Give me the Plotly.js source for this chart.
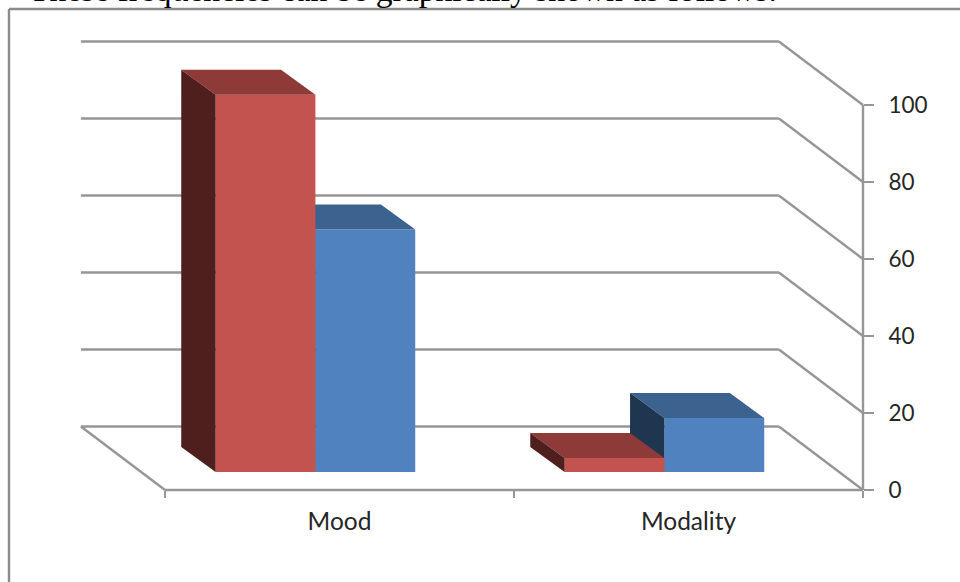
<!DOCTYPE html>
<html>
<head>
<meta charset="utf-8">
<script src="https://cdn.plot.ly/plotly-3.0.1.min.js"></script>
<style>html,body{margin:0;padding:0;background:#fff;overflow:hidden}#chart{width:960px;height:582px}</style>
</head>
<body>
<div id="chart"></div>
<script>
// Data
var categories = ['Mood', 'Modality'];
var redValues = [98, 3.6];
var blueValues = [63, 14];
var yTicks = [0, 20, 40, 60, 80, 100];
var captionText = 'These frequencies can be graphically shown as follows.';

// Styling and oblique-projection constants (axis units)
var BAR_W = 0.286, RED_OFF = -0.355, BLUE_OFF = -0.069;
var BASE = 4.68;          // front of the bars above the front floor edge
var DX = 0.0985, DY = 6.5;   // bar depth
var WALL_DX = 0.241, WALL_DY = 16.5; // floor depth
var X0 = -0.5, X1 = 1.5, Y_MAX = 100;
var GRID = '#969696';
var RIGHT = 863, BOTTOM = 490, PX_PER_X = 349, PX_PER_Y = 3.85;
var L = 60, T = 25, W = RIGHT - L, H = BOTTOM - T;
var XLO = X1 - W / PX_PER_X, YHI = H / PX_PER_Y;

function px(v) { return (v - L) / W; }
function py(v) { return (T + H - v) / H; }

function poly(xs, ys, color, xa, ya) {
  return { type: 'scatter', mode: 'lines', x: xs, y: ys, fill: 'toself', fillcolor: color,
    line: { width: 0, color: color }, hoverinfo: 'skip', showlegend: false, xaxis: xa, yaxis: ya };
}
function series(values, off, front, top, side, xa, ya) {
  var tr = [];
  var xs = categories.map(function (c, i) { return i; });
  tr.push({ type: 'bar', x: xs, y: values, base: values.map(function () { return BASE; }),
    width: values.map(function () { return BAR_W; }), offset: values.map(function () { return off; }),
    marker: { color: front, line: { width: 0 } }, hoverinfo: 'skip', showlegend: false, xaxis: xa, yaxis: ya });
  values.forEach(function (v, i) {
    var l = i + off, r = l + BAR_W, b = BASE, t = BASE + v;
    tr.push(poly([l, r, r - DX, l - DX, l], [t, t, t + DY, t + DY, t], top, xa, ya));
    tr.push(poly([l, l - DX, l - DX, l, l], [b, b + DY, t + DY, t, b], side, xa, ya));
  });
  return tr;
}

var traces = series(blueValues, BLUE_OFF, '#5082C0', '#3C628F', '#1F3650', 'x', 'y')
  .concat(series(redValues, RED_OFF, '#C3534F', '#8E3A38', '#4F1F1D', 'x2', 'y2'));

var gridLine = { color: GRID, width: 2.4 };
// Shapes use paper references so lines on the plot edge are not clipped;
// positions are converted from the same axis ranges the traces use.
function xp(x) { return (x - XLO) / (X1 - XLO); }
function yp(y) { return y / YHI; }
function seg(x0, y0, x1, y1) {
  return { type: 'line', layer: 'below', xref: 'paper', yref: 'paper', x0: xp(x0), x1: xp(x1), y0: yp(y0), y1: yp(y1), line: gridLine };
}
var shapes = [];
yTicks.forEach(function (v) {
  shapes.push(seg(X0 - WALL_DX, v + WALL_DY, X1 - WALL_DX, v + WALL_DY));
  shapes.push(seg(X1 - WALL_DX, v + WALL_DY, X1, v));
});
shapes.push(seg(X0 - WALL_DX, WALL_DY, X0, 0));  // left floor edge
shapes.push(seg(X0, 0, X1, 0));                  // category axis line
shapes.push(seg(X1, 0, X1, Y_MAX));              // value axis line
// Frame of the pasted chart
var frame = { color: '#8C8C8C', width: 2.4 };
shapes.push({ type: 'line', layer: 'below', xref: 'paper', yref: 'paper', x0: px(9), x1: px(960), y0: py(9), y1: py(9), line: frame });
shapes.push({ type: 'line', layer: 'below', xref: 'paper', yref: 'paper', x0: px(9), x1: px(9), y0: py(9), y1: py(582), line: frame });

var layout = {
  width: 960, height: 582, paper_bgcolor: '#fff', plot_bgcolor: 'rgba(0,0,0,0)',
  margin: { l: L, r: 960 - L - W, t: T, b: 582 - T - H, pad: 0 },
  barmode: 'overlay', showlegend: false, hovermode: false, shapes: shapes,
  xaxis: { type: 'linear', range: [XLO, X1], tickmode: 'array', tickvals: [0, 1], ticktext: categories,
    ticks: '', showgrid: false, zeroline: false, showline: false,
    tickfont: { family: 'Lato, sans-serif', size: 24.5, color: '#262626' }, ticklabelstandoff: 14,
    minor: { tickmode: 'array', tickvals: [-0.5, 0.5, 1.5], ticks: 'outside', ticklen: 7, tickwidth: 2.4, tickcolor: GRID, showgrid: false } },
  yaxis: { type: 'linear', range: [0, YHI], side: 'right', tickmode: 'array', tickvals: yTicks,
    ticks: 'outside', ticklen: 10, tickwidth: 2.4, tickcolor: GRID, showgrid: false, zeroline: false,
    showline: false, tickfont: { family: 'Lato, sans-serif', size: 22.5, color: '#262626' }, ticklabelstandoff: 10 },
  xaxis2: { type: 'linear', range: [XLO, X1], overlaying: 'x', visible: false },
  yaxis2: { type: 'linear', range: [0, YHI], overlaying: 'y', visible: false },
  annotations: [{ text: captionText, xref: 'paper', yref: 'paper', x: px(27), y: py(10), xanchor: 'left', yanchor: 'bottom',
    showarrow: false, align: 'left', font: { family: '"Liberation Serif", serif', size: 33.6, color: '#000' } }]
};
Plotly.newPlot('chart', traces, layout, { displayModeBar: false, staticPlot: true });
</script>
</body>
</html>
